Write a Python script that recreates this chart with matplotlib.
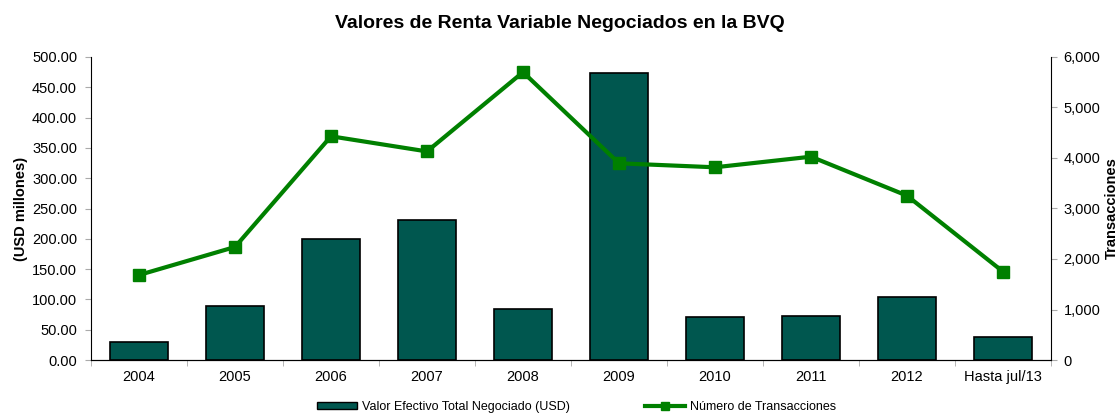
import numpy as np
import matplotlib.pyplot as plt
from matplotlib.patches import Patch
from matplotlib.lines import Line2D

plt.rcParams['font.family'] = ['Liberation Sans', 'DejaVu Sans']

# datos
anios = ['2004', '2005', '2006', '2007', '2008', '2009', '2010', '2011', '2012', 'Hasta jul/13']
valor_usd = [30, 89, 200, 231, 84, 473, 71.5, 73, 104.5, 38]
transacciones = [1683, 2238, 4430, 4130, 5700, 3895, 3816, 4026, 3254, 1750]

color_barra = '#00574F'
color_linea = '#008000'

fig = plt.figure(figsize=(11.19, 4.16), dpi=100)
ax = fig.add_axes([91 / 1119, 56 / 416, 960 / 1119, 303 / 416])
x = np.arange(len(anios))

ax.bar(x, valor_usd, width=0.6, color=color_barra, edgecolor='black', linewidth=1.2, zorder=2)
ax.set_xlim(-0.5, len(anios) - 0.5)
ax.set_ylim(0, 500)
ax.set_yticks(np.arange(0, 501, 50))
ax.set_yticklabels(['%.2f' % v for v in np.arange(0, 501, 50)], fontsize=10.5)
ax.set_xticks(x)
ax.set_xticklabels(anios, fontsize=10.5)
ax.set_xticks(np.arange(-0.5, len(anios) - 0.4, 1), minor=True)
ax.tick_params(axis='x', which='major', length=0, pad=7)
ax.tick_params(axis='x', which='minor', length=4, color='#aaaaaa', direction='out')
ax.tick_params(axis='y', length=4, color='#aaaaaa', direction='out', pad=6)
ax.set_ylabel('(USD millones)', fontsize=10.5, fontweight='bold', labelpad=3)
ax.spines['top'].set_visible(False)
ax.spines['right'].set_visible(False)

ax2 = ax.twinx()
ax2.plot(x, transacciones, color=color_linea, linewidth=3, marker='s', markersize=8, zorder=3)
ax2.set_ylim(0, 6000)
ax2.set_yticks(np.arange(0, 6001, 1000))
ax2.set_yticklabels(['{:,}'.format(v) for v in range(0, 6001, 1000)], fontsize=10.5)
ax2.tick_params(axis='y', length=4, color='#aaaaaa', direction='out', pad=5)
ax2.set_ylabel('Transacciones', fontsize=10.5, fontweight='bold', labelpad=3)
ax2.spines['top'].set_visible(False)
ax2.spines['left'].set_visible(False)

fig.suptitle('Valores de Renta Variable Negociados en la BVQ', fontsize=14, fontweight='bold', y=0.965)

handles = [Patch(facecolor=color_barra, edgecolor='black'),
           Line2D([0], [0], color=color_linea, linewidth=3, marker='s', markersize=6)]
fig.legend(handles, ['Valor Efectivo Total Negociado (USD)', 'Número de Transacciones'],
           loc='lower center', bbox_to_anchor=(0.515, -0.02), ncol=2, frameon=False,
           fontsize=9, columnspacing=6, handlelength=3.2, handletextpad=0.4, handleheight=0.5)

plt.savefig('out.png')
